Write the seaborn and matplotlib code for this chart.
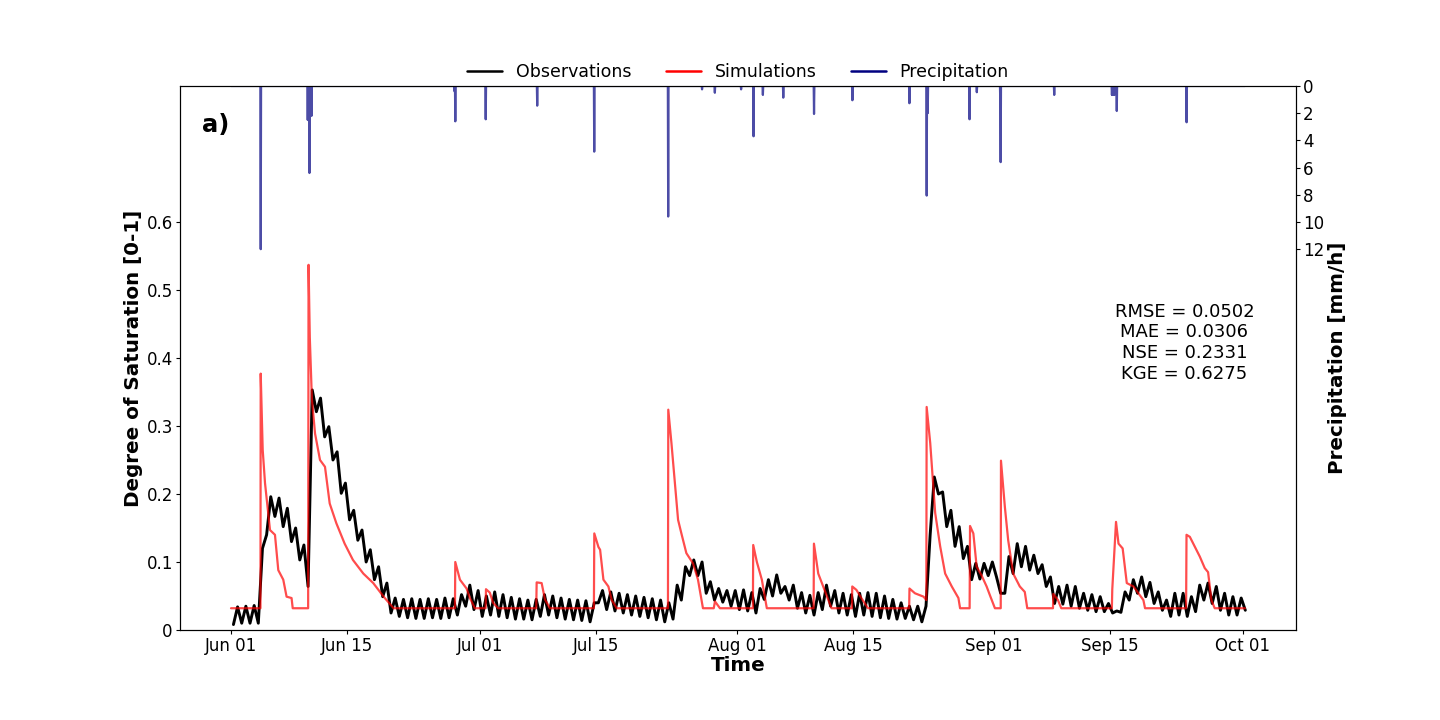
import numpy as np
import pandas as pd
import matplotlib
matplotlib.use('Agg')
import matplotlib.pyplot as plt
import matplotlib.dates as mdates
from matplotlib.lines import Line2D
import seaborn as sns

sns.set_style('ticks', rc={'axes.edgecolor': 'black', 'xtick.color': 'black',
                           'ytick.color': 'black', 'text.color': 'black',
                           'axes.labelcolor': 'black'})
plt.rcParams['font.family'] = ['DejaVu Sans']

start = pd.Timestamp('2021-06-01')

# observed degree of saturation, two readings per day (07:00 and 19:00)
obs_sm = [
    0.008, 0.034, 0.010, 0.035, 0.010, 0.036, 0.010, 0.120, 0.140, 0.196, 0.167, 0.194, 0.152, 0.179,
    0.130, 0.150, 0.103, 0.125, 0.064, 0.353, 0.321, 0.341, 0.284, 0.299, 0.250, 0.262, 0.201, 0.216,
    0.162, 0.176, 0.132, 0.147, 0.100, 0.118, 0.074, 0.093, 0.049, 0.069, 0.025, 0.047, 0.020, 0.045,
    0.018, 0.046, 0.017, 0.045, 0.017, 0.046, 0.018, 0.045, 0.017, 0.047, 0.018, 0.046, 0.022, 0.052,
    0.035, 0.066, 0.030, 0.058, 0.020, 0.050, 0.022, 0.056, 0.020, 0.052, 0.018, 0.048, 0.016, 0.046,
    0.016, 0.044, 0.015, 0.045, 0.020, 0.052, 0.022, 0.050, 0.018, 0.047, 0.016, 0.045, 0.015, 0.044,
    0.014, 0.043, 0.012, 0.040, 0.040, 0.058, 0.030, 0.056, 0.028, 0.054, 0.025, 0.052, 0.022, 0.050,
    0.020, 0.048, 0.018, 0.046, 0.015, 0.044, 0.012, 0.040, 0.016, 0.066, 0.044, 0.093, 0.080, 0.103,
    0.080, 0.100, 0.054, 0.071, 0.044, 0.061, 0.041, 0.058, 0.035, 0.058, 0.030, 0.059, 0.028, 0.055,
    0.025, 0.061, 0.045, 0.074, 0.050, 0.081, 0.054, 0.064, 0.044, 0.066, 0.032, 0.055, 0.025, 0.051,
    0.022, 0.055, 0.030, 0.066, 0.035, 0.058, 0.025, 0.054, 0.022, 0.052, 0.020, 0.054, 0.022, 0.055,
    0.020, 0.054, 0.018, 0.050, 0.017, 0.045, 0.016, 0.040, 0.017, 0.035, 0.015, 0.035, 0.012, 0.035,
    0.140, 0.225, 0.200, 0.203, 0.152, 0.176, 0.123, 0.152, 0.105, 0.123, 0.074, 0.098, 0.075, 0.098,
    0.080, 0.100, 0.078, 0.054, 0.054, 0.108, 0.083, 0.127, 0.093, 0.123, 0.088, 0.110, 0.083, 0.096,
    0.064, 0.078, 0.039, 0.064, 0.038, 0.066, 0.035, 0.064, 0.032, 0.054, 0.029, 0.052, 0.027, 0.049,
    0.027, 0.039, 0.025, 0.028, 0.026, 0.056, 0.044, 0.074, 0.054, 0.078, 0.049, 0.070, 0.039, 0.056,
    0.029, 0.044, 0.020, 0.054, 0.022, 0.054, 0.020, 0.049, 0.027, 0.066, 0.044, 0.069, 0.039, 0.064,
    0.029, 0.054, 0.022, 0.049, 0.022, 0.047, 0.029,
]

# simulated degree of saturation, breakpoints (days since Jun 01, value)
sim_days = [0.0, 3.55, 3.58, 3.82, 4.1, 4.7, 5.3, 5.7, 6.3, 6.7, 7.3, 7.44, 9.3, 9.35, 9.5, 9.75,
            10.13, 10.73, 11.33, 11.9, 12.7, 13.7, 14.7, 15.95, 17.15, 18.4, 19.6,
            27.0, 27.04, 27.6, 28.4, 28.8, 29.4,
            30.7, 30.74, 31.2, 31.6, 32.2,
            36.8, 36.85, 37.45, 37.85, 38.45,
            43.75, 43.8, 44.3, 44.5, 44.9, 45.5, 45.9, 46.5,
            52.68, 52.72, 53.1, 53.9, 54.3, 54.9, 55.7, 56.3, 56.9,
            58.2, 58.35, 58.95,
            62.92, 62.96, 63.4, 64.0, 64.6,
            70.24, 70.28, 70.8, 71.4, 72.4,
            74.86, 74.9, 75.4, 76.0, 76.8,
            81.76, 81.8, 82.46, 83.5, 83.83, 83.87, 84.3, 84.9, 85.5, 86.1, 86.9, 87.7, 87.9,
            89.05, 89.1, 89.5, 89.9, 90.5, 91.1, 91.5, 92.1,
            92.8, 92.83, 93.3, 93.7, 94.3, 95.1, 95.7, 96.0,
            99.1, 99.14, 99.7, 100.1,
            106.2, 106.25, 106.7, 107.0, 107.5, 108.0, 108.8, 110.0, 110.2,
            115.15, 115.2, 115.6, 116.8, 117.4, 117.8, 118.2, 118.6, 122.25]
sim_sm = [0.032, 0.032, 0.377, 0.265, 0.216, 0.147, 0.140, 0.088, 0.074, 0.049, 0.047, 0.032, 0.032, 0.537, 0.430, 0.340,
          0.289, 0.250, 0.240, 0.186, 0.157, 0.127, 0.103, 0.083, 0.069, 0.049, 0.032,
          0.032, 0.100, 0.074, 0.061, 0.047, 0.032,
          0.032, 0.060, 0.055, 0.040, 0.032,
          0.032, 0.070, 0.069, 0.045, 0.032,
          0.032, 0.142, 0.122, 0.118, 0.074, 0.064, 0.044, 0.032,
          0.032, 0.324, 0.275, 0.162, 0.142, 0.113, 0.098, 0.074, 0.032,
          0.032, 0.042, 0.032,
          0.032, 0.125, 0.100, 0.074, 0.032,
          0.032, 0.127, 0.083, 0.064, 0.032,
          0.032, 0.064, 0.059, 0.047, 0.032,
          0.032, 0.061, 0.054, 0.049, 0.044, 0.328, 0.275, 0.172, 0.123, 0.083, 0.064, 0.047, 0.032,
          0.032, 0.153, 0.142, 0.093, 0.080, 0.064, 0.051, 0.032,
          0.032, 0.249, 0.181, 0.132, 0.083, 0.064, 0.056, 0.032,
          0.032, 0.053, 0.044, 0.032,
          0.032, 0.060, 0.159, 0.127, 0.120, 0.069, 0.064, 0.044, 0.032,
          0.032, 0.140, 0.137, 0.108, 0.091, 0.085, 0.044, 0.032, 0.032]

# hourly precipitation events (days since Jun 01, mm/h), zero otherwise
rain_days = [3.58, 9.24, 9.44, 9.72, 26.96, 27.04, 30.7, 36.93, 43.8, 52.72, 56.8, 58.35, 61.48,
             63.0, 64.14, 66.59, 70.28, 74.9, 81.8, 83.87, 84.0, 89.05, 89.9, 92.75, 92.8,
             99.25, 106.2, 106.3, 106.4, 106.5, 106.8, 115.2]
rain_mm = [12.0, 2.5, 6.4, 2.2, 0.4, 2.6, 2.45, 1.45, 4.83, 9.6, 0.25, 0.5, 0.25,
           3.7, 0.66, 0.86, 2.06, 1.05, 1.27, 8.06, 2.0, 2.45, 0.46, 1.27, 5.6,
           0.66, 0.66, 0.66, 0.66, 0.66, 1.84, 2.67]

stats_text = 'RMSE = 0.0502\nMAE = 0.0306\nNSE = 0.2331\nKGE = 0.6275'

obs_time = start + pd.Timedelta(hours=7) + pd.to_timedelta(np.arange(len(obs_sm)) * 12, unit='h')
sim_time = start + pd.to_timedelta(np.array(sim_days), unit='D')
p_time = pd.date_range(start, start + pd.Timedelta(days=122.25), freq='h')
p_vals = np.zeros(len(p_time))
for d, v in zip(rain_days, rain_mm):
    p_vals[int(round(d * 24))] = v

fig = plt.figure(figsize=(14.4, 7.2), dpi=100)
ax = fig.add_axes([0.125, 0.125, 0.775, 0.7556])

sns.lineplot(x=obs_time, y=obs_sm, color='black', lw=2.1, ax=ax)
sns.lineplot(x=sim_time, y=sim_sm, color='red', alpha=0.7, lw=1.6, ax=ax)

ax.set_ylim(0, 0.8)
ax.set_yticks([0, 0.1, 0.2, 0.3, 0.4, 0.5, 0.6])
ax.set_yticklabels(['0', '0.1', '0.2', '0.3', '0.4', '0.5', '0.6'])
ax.set_xlim(start - pd.Timedelta(days=6.15), start + pd.Timedelta(days=128.4))
ax.xaxis.set_major_locator(mdates.DayLocator(bymonthday=[1, 15]))
ax.xaxis.set_major_formatter(mdates.DateFormatter('%b %d'))
ax.tick_params(labelsize=12, length=2.6, pad=2.6, width=0.8)
ax.set_xlabel('Time', fontsize=14.3, fontweight='bold', labelpad=0.5)
ax.set_ylabel('Degree of Saturation [0-1]', fontsize=14.3, fontweight='bold', labelpad=2.6)

ax2 = ax.twinx()
sns.lineplot(x=p_time, y=p_vals, color='navy', alpha=0.7, lw=1.6, ax=ax2)
ax2.set_ylim(40, 0)
ax2.set_yticks([0, 2, 4, 6, 8, 10, 12])
ax2.tick_params(labelsize=12, length=2.6, pad=2.6, width=0.8)
ax2.set_ylabel('Precipitation [mm/h]', fontsize=14.3, fontweight='bold', labelpad=2.6)
ax2.set_xlim(ax.get_xlim())

ax.text(0.02, 0.928, 'a)', transform=ax.transAxes, fontsize=17.5, fontweight='bold',
        ha='left', va='center')
ax.text(0.9, 0.528, stats_text, transform=ax.transAxes, fontsize=13,
        ha='center', va='center', multialignment='center')

handles = [Line2D([], [], color='black', lw=1.8),
           Line2D([], [], color='red', lw=1.8),
           Line2D([], [], color='navy', lw=1.8)]
ax.legend(handles, ['Observations', 'Simulations', 'Precipitation'], loc='center',
          bbox_to_anchor=(0.5, 1.025), ncol=3, frameon=False, fontsize=12.5)

fig.savefig('out.png', dpi=100)
